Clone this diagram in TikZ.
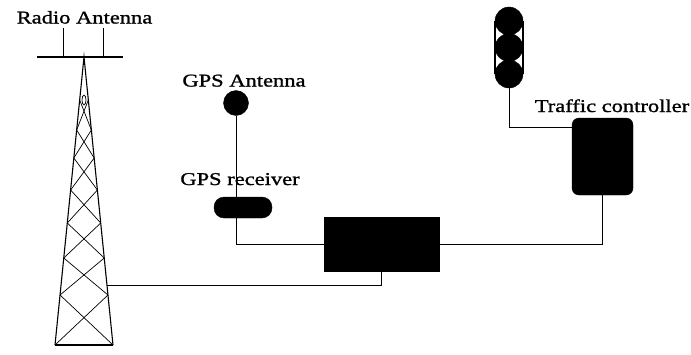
\documentclass[tikz,border=0pt]{standalone}
\usepackage{fontspec}
\setmainfont{Liberation Serif}[FakeStretch=1.25,FakeBold=1.2]
\begin{document}
\begin{tikzpicture}[x=1pt,y=-1pt,
  lbl/.style={font=\fontsize{18}{21}\selectfont,inner sep=0pt,anchor=base},
  wire/.style={line width=0.8pt},
  blk/.style={fill=black,draw=black},
  leg/.style={line width=1.1pt},
  brace/.style={line width=0.7pt}]
\useasboundingbox (0,0) rectangle (691,354);
% labels
\node[lbl] (lra) at (84.5,23.5) {Radio Antenna};
\node[lbl] (lga) at (244,86.5) {GPS Antenna};
\node[lbl] (lrc) at (240,185) {GPS receiver};
\node[lbl] (ltc) at (612,112) {Traffic controller};
% radio antenna
\coordinate (apex) at (84,57);
\coordinate (barl) at (37,57);
\coordinate (barr) at (123,57);
\coordinate (d1t) at (63,28);
\coordinate (d2t) at (103,28);
\draw[leg] (barl) -- (barr);
\draw[brace] (d1t) -- (d1t |- apex);
\draw[brace] (d2t) -- (d2t |- apex);
\coordinate (bl) at (55,345);
\coordinate (br) at (113,345);
\draw[leg] (bl) -- (apex) -- (br);
\draw[leg] (bl) -- (br);
\foreach \a/\b in {100/130,130/158,158/190,190/223,223/258,258/295,295/345}{
  \pgfmathsetmacro\la{84-29*(\a-57)/288}
  \pgfmathsetmacro\ra{84+29*(\a-57)/288}
  \pgfmathsetmacro\lb{84-29*(\b-57)/288}
  \pgfmathsetmacro\rb{84+29*(\b-57)/288}
  \draw[brace] (\la,\a) -- (\rb,\b);
  \draw[brace] (\ra,\a) -- (\lb,\b);
}
\draw[brace] (84,100) ellipse (2pt and 5pt);
\coordinate (tw) at (107,285);
% GPS antenna and receiver
\node[blk,circle,minimum size=25pt,inner sep=0pt] (ga) at (236,103) {};
\node[blk,rounded corners=10pt,minimum width=58pt,minimum height=21pt,inner sep=0pt] (rcv) at (243,207.5) {};
% main box
\node[blk,minimum width=115pt,minimum height=54pt,inner sep=0pt] (box) at (381.5,244) {};
% traffic controller
\node[blk,rounded corners=7pt,minimum width=61pt,minimum height=77pt,inner sep=0pt] (tc) at (602.5,156.5) {};
\coordinate (tcin) at (572,127);
% traffic light
\node[blk,circle,minimum size=28pt,inner sep=0pt] (l1) at (509,21) {};
\node[blk,circle,minimum size=28pt,inner sep=0pt] (l2) at (509,47.5) {};
\node[blk,circle,minimum size=28pt,inner sep=0pt] (l3) at (509,74) {};
\draw[line width=1.6pt] (l1.west) -- (l3.west);
\draw[line width=1.6pt] (l1.east) -- (l3.east);
% connectors
\draw[wire] (ga.south) -- (ga.south |- box.west) -- (box.west);
\draw[wire] (box.east) -- (tc.south |- box.east) -- (tc.south);
\draw[wire] (box.south) -- (box.south |- tw) -- (tw);
\draw[wire] (l3.south) -- (l3.south |- tcin) -- (tcin);
\end{tikzpicture}
\end{document}
